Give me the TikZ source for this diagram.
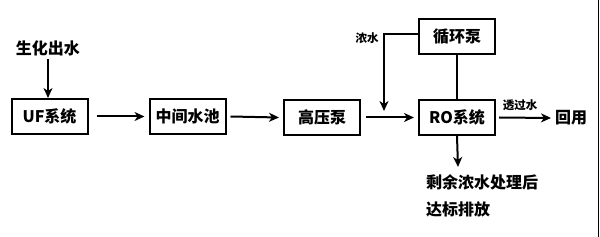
\documentclass[tikz,border=0pt]{standalone}
\usepackage{fontspec}
\newfontfamily\cjk{Noto Sans CJK SC}
\usetikzlibrary{arrows.meta}
\begin{document}
\begin{tikzpicture}[x=1pt,y=-1pt,
  box/.style={draw,line width=2pt,minimum width=76pt,minimum height=35pt,inner sep=0pt,font=\cjk\fontsize{16}{17}\selectfont\bfseries},
  lbl/.style={font=\cjk\fontsize{16}{17}\selectfont\bfseries,inner sep=0pt},
  small/.style={font=\cjk\fontsize{11.5}{12}\selectfont\bfseries,inner sep=0pt},
  arr/.style={line width=2pt,-{Stealth[length=10pt,width=9pt,inset=3pt]}},
  ln/.style={line width=2pt}]
\useasboundingbox (0,0) rectangle (600,237);
\node[box] (uf) at (49.5,116.5) {UF系统};
\node[box] (pool) at (187.5,116.5) {中间水池};
\node[box] (hp) at (322,117.5) {高压泵};
\node[box] (ro) at (457,117.5) {RO系统};
\node[box] (cp) at (457,37) {循环泵};
\node[lbl] (bio) at (48,48) {生化出水};
\node[small] (nw) at (367,38) {浓水};
\node[small] (tg) at (520,105) {透过水};
\node[lbl] (hy) at (571,118) {回用};
\node[lbl,anchor=west] (r1) at (426,182) {剩余浓水处理后};
\node[lbl,anchor=west] (r2) at (426,209) {达标排放};
\coordinate (bend) at (384,34);
\coordinate (nwend) at (384,111);
\coordinate (out) at (458,167);
\coordinate (hyend) at (551,118);
\draw[arr] (bio.south) ++(0,3) -- (uf.north -| bio.south);
\draw[arr] (uf.east) ++(8,0) -- ([xshift=-4pt]pool.west);
\draw[arr] (pool.east) ++(4,0) -- ([xshift=-4pt]hp.west);
\draw[arr] (hp.east) ++(5,0) -- ([xshift=-4pt]ro.west);
\draw[arr] (cp.west |- bend) -- (bend) -- (nwend);
\draw[ln] (cp.south) -- (ro.north);
\draw[arr] (ro.east) ++(3,0) -- (hyend);
\draw[arr] (ro.south) -- (out);
\draw[line width=1pt] (598,0) -- (598,237);
\end{tikzpicture}
\end{document}
